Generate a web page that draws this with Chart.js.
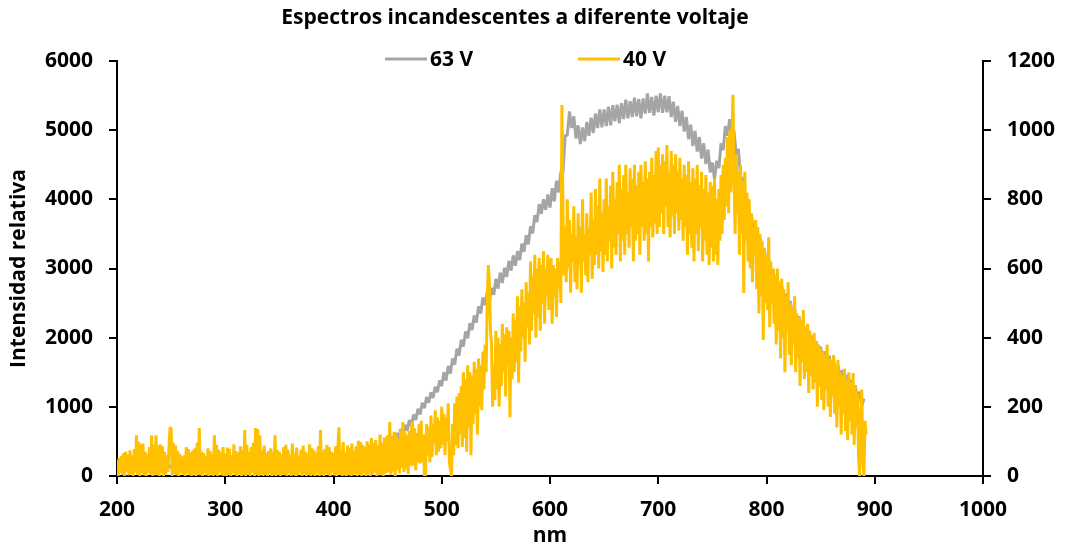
<!DOCTYPE html>
<html>
<head>
<meta charset="utf-8">
<script src="https://cdn.jsdelivr.net/npm/chart.js@4.4.1/dist/chart.umd.min.js"></script>
<style>
  html, body { margin: 0; padding: 0; background: #fff; }
  #wrap { width: 1065px; height: 546px; position: relative; }
</style>
</head>
<body>
<div id="wrap"><canvas id="chart"></canvas></div>
<script>
// Spectrum labels
const chartTitle = 'Espectros incandescentes a diferente voltaje';
const seriesNames = ['63 V', '40 V'];
const xAxisTitle = 'nm';
const yAxisTitle = 'Intensidad relativa';

// 63 V spectrum: relative intensity (left axis), sampled every 2 nm from 200 nm
const v63StartNm = 200;
const v63StepNm = 2;
const v63Intensity = [
  120, 60, 140, 80, 150, 70, 130, 90, 160, 60, 140, 80, 120, 70, 150, 90, 130, 60, 140, 80, 160, 70, 120, 90, 150,
  130, 70, 150, 80, 140, 60, 120, 90, 160, 70, 130, 80, 150, 60, 140, 90, 120, 70, 160, 80, 130, 60, 150, 90, 140,
  120, 80, 150, 60, 130, 90, 140, 70, 160, 80, 120, 60, 150, 90, 130, 70, 140, 80, 160, 60, 120, 90, 150, 70, 130,
  140, 80, 160, 90, 150, 70, 170, 100, 160, 90, 180, 110, 170, 100, 190, 120, 180, 110, 200, 130, 190, 120, 210, 140, 200,
  230, 160, 240, 170, 250, 190, 270, 200, 280, 220, 300, 230, 310, 250, 330, 270, 350, 290, 370, 310, 390, 340, 420, 360, 440,
  520, 430, 570, 470, 620, 530, 680, 590, 740, 650, 810, 730, 890, 810, 970, 890, 1060, 980, 1140, 1060, 1210, 1130, 1290, 1210, 1380,
  1300, 1500, 1380, 1590, 1480, 1700, 1610, 1840, 1740, 1970, 1870, 2090, 1990, 2210, 2110, 2320, 2220, 2450, 2350, 2580, 2470, 2660, 2520, 2720, 2620,
  2850, 2710, 2940, 2790, 3010, 2880, 3110, 2970, 3190, 3040, 3250, 3120, 3360, 3240, 3480, 3350, 3610, 3510, 3770, 3670, 3930, 3790, 4000, 3850, 4070,
  3880, 4160, 3970, 4270, 4100, 4400, 4380, 4920, 4930, 5270, 5030, 5200, 4880, 5070, 4800, 5040, 4840, 5120, 4920, 5180, 4960, 5240, 5030, 5300, 5040,
  5300, 5060, 5340, 5070, 5360, 5130, 5370, 5100, 5390, 5160, 5440, 5170, 5420, 5190, 5470, 5200, 5450, 5170, 5460, 5240, 5530, 5250, 5480, 5210, 5500,
  5260, 5530, 5250, 5500, 5260, 5490, 5190, 5410, 5120, 5350, 5060, 5280, 4980, 5190, 4870, 5080, 4770, 4990, 4690, 4900, 4590, 4810, 4510, 4720, 4390,
  4530, 4290, 4560, 4450, 4810, 4710, 5060, 4920, 5160, 4870, 4990, 4650, 4730, 4310, 4310, 3890, 3990, 3670, 3790, 3490, 3590, 3290, 3440, 3150, 3290,
  3010, 3130, 2880, 2990, 2750, 2870, 2630, 2750, 2510, 2640, 2400, 2530, 2290, 2420, 2190, 2310, 2080, 2210, 1980, 2110, 1890, 2030, 1810, 1950, 1730,
  1870, 1680, 1800, 1610, 1740, 1540, 1670, 1480, 1600, 1410, 1530, 1340, 1460, 1270, 1390, 1190, 1310, 1110, 1220, 1010, 1120
];

// 40 V spectrum: relative intensity (right axis), sampled every 1 nm from 200 nm
const v40StartNm = 200;
const v40StepNm = 1;
const v40Intensity = [
  46, 0, 52, 8, 58, 4, 66, 0, 70, 12, 62, 2, 74, 6, 60, 0, 78, 10, 118, 4, 98, 0, 92, 8, 94, 2, 70, 0, 62, 10, 84, 4, 118, 0, 90, 6, 118, 2, 88, 0, 92, 8, 86, 0, 70, 4, 60, 12, 82, 139,
  139, 0, 96, 6, 88, 2, 72, 0, 64, 10, 56, 4, 60, 0, 84, 8, 78, 2, 68, 0, 74, 6, 80, 0, 96, 4, 139, 2, 70, 0, 66, 8, 58, 2, 80, 0, 72, 6, 64, 0, 118, 4, 90, 0, 76, 10, 68, 2, 84, 0,
  64, 0, 82, 4, 78, 0, 60, 8, 92, 2, 72, 0, 68, 6, 86, 0, 74, 2, 133, 0, 90, 4, 70, 0, 84, 10, 96, 0, 139, 2, 136, 0, 118, 6, 74, 0, 88, 4, 66, 0, 72, 8, 80, 0, 70, 2, 118, 0, 76, 4,
  70, 0, 62, 6, 84, 2, 90, 0, 76, 8, 60, 0, 94, 4, 66, 0, 82, 2, 58, 10, 76, 0, 88, 6, 70, 0, 64, 4, 92, 0, 80, 2, 74, 0, 68, 8, 86, 0, 133, 4, 72, 0, 78, 6, 90, 2, 84, 0, 70, 10,
  66, 2, 86, 0, 80, 141, 4, 72, 0, 98, 2, 68, 0, 88, 4, 80, 0, 94, 2, 72, 6, 86, 0, 102, 4, 98, 0, 90, 8, 84, 0, 100, 6, 92, 0, 110, 4, 96, 10, 104, 0, 88, 6, 120, 2, 96, 0, 112, 8, 100,
  118, 10, 156, 4, 112, 14, 128, 0, 120, 18, 104, 8, 132, 24, 156, 12, 126, 20, 118, 6, 130, 28, 142, 156, 30, 138, 16, 124, 40, 150, 36, 160, 40, 120, 0, 0, 150, 60, 140, 40, 175, 55, 150, 95, 190, 60, 170, 70, 160, 80,
  200, 90, 180, 60, 170, 100, 210, 40, 20, 0, 150, 60, 210, 90, 230, 80, 240, 120, 260, 84, 300, 110, 280, 70, 320, 140, 300, 60, 290, 150, 330, 180, 310, 120, 340, 200, 320, 190, 360, 250, 380, 300, 500, 610, 560, 420, 380, 200, 320, 220,
  420, 250, 400, 200, 380, 260, 440, 300, 410, 230, 430, 330, 420, 170, 400, 280, 470, 300, 450, 330, 520, 270, 490, 360, 540, 400, 500, 330, 560, 430, 530, 380, 620, 420, 580, 470, 640, 400, 600, 460, 630, 420, 610, 500, 650, 440, 600, 520, 640, 480,
  560, 630, 440, 610, 520, 600, 460, 630, 540, 620, 500, 1073, 760, 580, 720, 560, 800, 600, 740, 530, 700, 620, 780, 560, 690, 540, 760, 610, 720, 530, 800, 620, 700, 580, 760, 560, 720, 640, 820, 570, 740, 610, 830, 640, 780, 600, 860, 650, 760, 590,
  800, 640, 860, 620, 780, 680, 840, 600, 880, 660, 800, 640, 850, 700, 900, 620, 830, 680, 870, 640, 900, 700, 820, 660, 890, 720, 860, 620, 900, 680, 840, 700, 880, 640, 900, 720, 850, 680, 910, 700, 860, 620, 880, 720, 920, 690, 870, 730, 940, 700,
  950, 720, 900, 760, 930, 700, 910, 780, 957, 720, 880, 690, 940, 750, 900, 700, 930, 760, 880, 710, 920, 740, 860, 680, 900, 720, 870, 640, 910, 700, 850, 660, 890, 620, 860, 700, 900, 650, 840, 720, 880, 620, 830, 680, 870, 640, 820, 610, 850, 660,
  840, 620, 860, 640, 800, 610, 830, 680, 870, 700, 900, 740, 920, 780, 980, 760, 1000, 820, 940, 1102, 860, 700, 930, 760, 880, 640, 900, 700, 850, 529, 880, 680, 820, 620, 800, 600, 760, 560, 720, 640, 740, 540, 720, 470, 700, 520, 680, 393, 660, 500,
  640, 480, 690, 430, 620, 500, 600, 440, 580, 380, 600, 420, 560, 340, 570, 400, 540, 300, 520, 420, 560, 350, 500, 320, 480, 380, 520, 300, 470, 340, 460, 260, 450, 330, 480, 280, 430, 300, 440, 240, 420, 290, 400, 250, 414, 270, 390, 200, 380, 260,
  370, 220, 360, 190, 350, 250, 380, 200, 340, 171, 330, 230, 350, 180, 320, 140, 335, 200, 300, 120, 290, 180, 310, 130, 280, 104, 300, 160, 270, 120, 298, 90, 260, 140, 240, 60, 0, 180, 250, 40, 0, 160, 120
];

// Axis ranges: [min, max, step]
const xRange = [200, 1000, 100];
const leftRange = [0, 6000, 1000];
const rightRange = [0, 1200, 200];

const grayColor = '#A5A5A5';
const goldColor = '#FFC000';
const fontFamily = '"Open Sans", Lato, sans-serif';

function toPoints(start, step, values) {
  return values.map((v, i) => ({ x: start + i * step, y: v }));
}

// Title and legend row drawn above the plot
const headerPlugin = {
  id: 'header',
  afterDraw(chart) {
    const ctx = chart.ctx;
    ctx.save();
    ctx.fillStyle = '#000';
    ctx.textBaseline = 'middle';
    ctx.textAlign = 'center';
    ctx.font = 'bold 21px ' + fontFamily;
    ctx.fillText(chartTitle, 515, 18);

    ctx.textAlign = 'left';
    const items = [
      { name: seriesNames[0], color: grayColor, x0: 385 },
      { name: seriesNames[1], color: goldColor, x0: 578 }
    ];
    items.forEach(it => {
      ctx.strokeStyle = it.color;
      ctx.lineWidth = 3;
      ctx.beginPath();
      ctx.moveTo(it.x0, 59);
      ctx.lineTo(it.x0 + 42, 59);
      ctx.stroke();
      ctx.fillText(it.name, it.x0 + 45, 60);
    });
    ctx.restore();
  }
};

function tickFont() { return { family: fontFamily, size: 21, weight: 'bold' }; }
const plainNumber = v => String(v);

function build() {
  new Chart(document.getElementById('chart'), {
    type: 'line',
    data: {
      datasets: [
        {
          label: seriesNames[1],
          data: toPoints(v40StartNm, v40StepNm, v40Intensity),
          yAxisID: 'y2',
          borderColor: goldColor,
          borderWidth: 3,
          borderJoinStyle: 'bevel',
          pointRadius: 0,
          tension: 0,
          order: 0
        },
        {
          label: seriesNames[0],
          data: toPoints(v63StartNm, v63StepNm, v63Intensity),
          yAxisID: 'y',
          borderColor: grayColor,
          borderWidth: 3,
          borderJoinStyle: 'bevel',
          pointRadius: 0,
          tension: 0,
          order: 1
        }
      ]
    },
    options: {
      responsive: true,
      maintainAspectRatio: false,
      animation: false,
      layout: { padding: { top: 61, left: 0, right: 0, bottom: 0 } },
      plugins: { legend: { display: false }, title: { display: false }, tooltip: { enabled: false } },
      scales: {
        x: {
          type: 'linear',
          min: xRange[0], max: xRange[1],
          ticks: { stepSize: xRange[2], color: '#000', font: tickFont(), padding: 13, maxRotation: 0, callback: plainNumber },
          grid: { drawOnChartArea: false, drawTicks: true, tickLength: 8, color: '#000', lineWidth: 2 },
          border: { display: true, color: '#000', width: 2 },
          title: { display: true, text: xAxisTitle, color: '#000', font: tickFont(), padding: { top: 0, bottom: -3 } },
          afterFit(s) { s.height = 70; }
        },
        y: {
          position: 'left',
          min: leftRange[0], max: leftRange[1],
          ticks: { stepSize: leftRange[2], color: '#000', font: tickFont(), padding: 16, callback: plainNumber },
          grid: { drawOnChartArea: false, drawTicks: true, tickLength: 8, color: '#000', lineWidth: 2 },
          border: { display: true, color: '#000', width: 2 },
          title: { display: true, text: yAxisTitle, color: '#000', font: tickFont(), padding: { top: 6, bottom: 0 } },
          afterFit(s) { s.width = 117; }
        },
        y2: {
          position: 'right',
          min: rightRange[0], max: rightRange[1],
          ticks: { stepSize: rightRange[2], color: '#000', font: tickFont(), padding: 16, callback: plainNumber },
          grid: { drawOnChartArea: false, drawTicks: true, tickLength: 8, color: '#000', lineWidth: 2 },
          border: { display: true, color: '#000', width: 2 },
          afterFit(s) { s.width = 82; }
        }
      }
    },
    plugins: [headerPlugin]
  });
}

if (document.fonts && document.fonts.load) {
  Promise.all([document.fonts.load('bold 21px "Open Sans"')]).then(build, build);
} else {
  build();
}
</script>
</body>
</html>
